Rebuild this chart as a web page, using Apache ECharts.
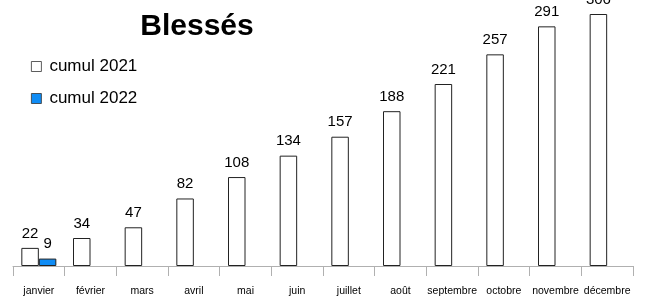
<!DOCTYPE html>
<html>
<head>
<meta charset="utf-8">
<script src="https://cdn.jsdelivr.net/npm/echarts@6/dist/echarts.min.js"></script>
<style>
  html, body { margin: 0; padding: 0; background: #fff; }
  #chart { width: 645px; height: 300px; }
</style>
</head>
<body>
<div id="chart"></div>
<script>
const months = ['janvier', 'février', 'mars', 'avril', 'mai', 'juin', 'juillet', 'août', 'septembre', 'octobre', 'novembre', 'décembre']
const cumul2021 = [22, 34, 47, 82, 108, 134, 157, 188, 221, 257, 291, 306]
const cumul2022 = [9, '-', '-', '-', '-', '-', '-', '-', '-', '-', '-', '-']

const chart = echarts.init(document.getElementById('chart'))

const font = 'Liberation Sans, Arial, sans-serif'
const labelStyle = {
  show: true,
  position: 'top',
  distance: 7,
  color: '#000',
  fontSize: 15,
  fontFamily: font
}

chart.setOption({
  animation: false,
  title: {
    text: 'Blessés',
    left: 192,
    textAlign: 'center',
    top: 7,
    textStyle: { fontSize: 30, fontWeight: 'bold', color: '#000', fontFamily: font }
  },
  legend: {
    orient: 'vertical',
    left: 31,
    top: 58,
    padding: 0,
    itemWidth: 10,
    itemHeight: 10,
    itemGap: 15,
    icon: 'rect',
    itemStyle: { borderWidth: 0.8, borderColor: '#333' },
    textStyle: { fontSize: 17, color: '#000', fontFamily: font, padding: [0, 0, 0, 3] },
    data: ['cumul 2021', 'cumul 2022']
  },
  grid: { left: 13, right: 12, top: 0, bottom: 34 },
  xAxis: {
    type: 'category',
    data: months,
    axisLine: { lineStyle: { color: '#b0b0b0', width: 1 } },
    axisTick: { show: true, length: 10, lineStyle: { color: '#b0b0b0' } },
    axisLabel: { color: '#000', fontSize: 10.5, margin: 20, interval: 0, fontFamily: font }
  },
  yAxis: {
    type: 'value',
    min: 0,
    max: 323,
    show: false,
    splitLine: { show: false }
  },
  series: [
    {
      name: 'cumul 2021',
      type: 'bar',
      data: cumul2021,
      barWidth: 17.5,
      barGap: '0%',
      itemStyle: { color: '#fff', borderColor: '#222', borderWidth: 1 },
      label: labelStyle
    },
    {
      name: 'cumul 2022',
      type: 'bar',
      data: cumul2022,
      barWidth: 17.5,
      itemStyle: { color: '#0f8cf5', borderColor: '#222', borderWidth: 1 },
      label: labelStyle
    }
  ]
})
</script>
</body>
</html>
